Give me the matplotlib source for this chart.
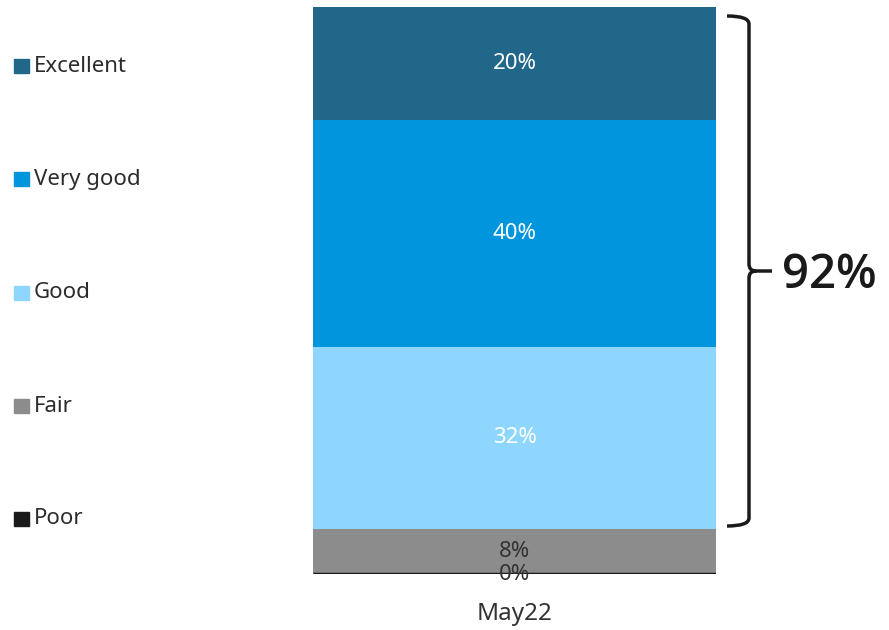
import matplotlib.pyplot as plt
from matplotlib.patches import Rectangle, PathPatch
from matplotlib.path import Path

plt.rcParams['font.family'] = ['Noto Sans', 'DejaVu Sans']

categories = ['Poor', 'Fair', 'Good', 'Very good', 'Excellent']
values = [0, 8, 32, 40, 20]
colors = ['#1a1a1a', '#8c8c8c', '#8ed6fd', '#0095dd', '#21678a']
text_colors = ['#333333', '#333333', 'white', 'white', 'white']
period = 'May22'
top_box = '92%'

fig = plt.figure(figsize=(8.89, 6.3), dpi=100)
ax = fig.add_axes([313 / 889, 56 / 630, 403 / 889, 567 / 630])

bottom = 0
for cat, v, c, tc in zip(categories, values, colors, text_colors):
    if v == 0:
        ax.plot([-0.5, 0.5], [bottom, bottom], color=c, lw=2.5, solid_capstyle='butt', zorder=3)
    else:
        ax.bar(0, v, width=1.0, bottom=bottom, color=c, linewidth=0)
    ax.text(0, bottom + v / 2, f'{v}%', ha='center', va='center', fontsize=16, color=tc, zorder=4)
    bottom += v

ax.set_xlim(-0.5, 0.5)
ax.set_ylim(0, 100)
ax.set_xticks([0])
ax.set_xticklabels([period], fontsize=17.5, color='#333333')
ax.tick_params(axis='x', length=0, pad=20)
ax.set_yticks([])
for s in ax.spines.values():
    s.set_visible(False)

# legend on the left, top to bottom
leg_y = [519, 406, 293, 179, 66]
for cat, c, y in zip(categories, colors, leg_y):
    yy = 1 - y / 630
    fig.patches.append(Rectangle((14 / 889, yy - 7 / 630), 15 / 889, 14 / 630,
                                 transform=fig.transFigure, color=c))
    fig.text(34 / 889, yy, cat, fontsize=16, color='#2b2b2b', va='center', ha='left')

# brace on the right
def px(x, y):
    return (x / 889, 1 - y / 630)

verts = [px(727, 16), px(749, 16), px(749, 24), px(749, 264),
         px(749, 271), px(756, 271), px(772, 271),
         px(756, 271), px(749, 271), px(749, 278),
         px(749, 518), px(749, 526), px(727, 526)]
codes = [Path.MOVETO, Path.CURVE3, Path.CURVE3, Path.LINETO,
         Path.CURVE3, Path.CURVE3, Path.LINETO,
         Path.MOVETO, Path.CURVE3, Path.CURVE3,
         Path.LINETO, Path.CURVE3, Path.CURVE3]
fig.patches.append(PathPatch(Path(verts, codes), transform=fig.transFigure,
                             fill=False, lw=2.5, edgecolor='#1a1a1a'))
fig.text(782 / 889, 1 - 276 / 630, top_box, fontsize=34, color='#1a1a1a',
         va='center', ha='left', family=['Open Sans', 'DejaVu Sans'], fontweight='semibold')

fig.savefig('out.png', dpi=100)
